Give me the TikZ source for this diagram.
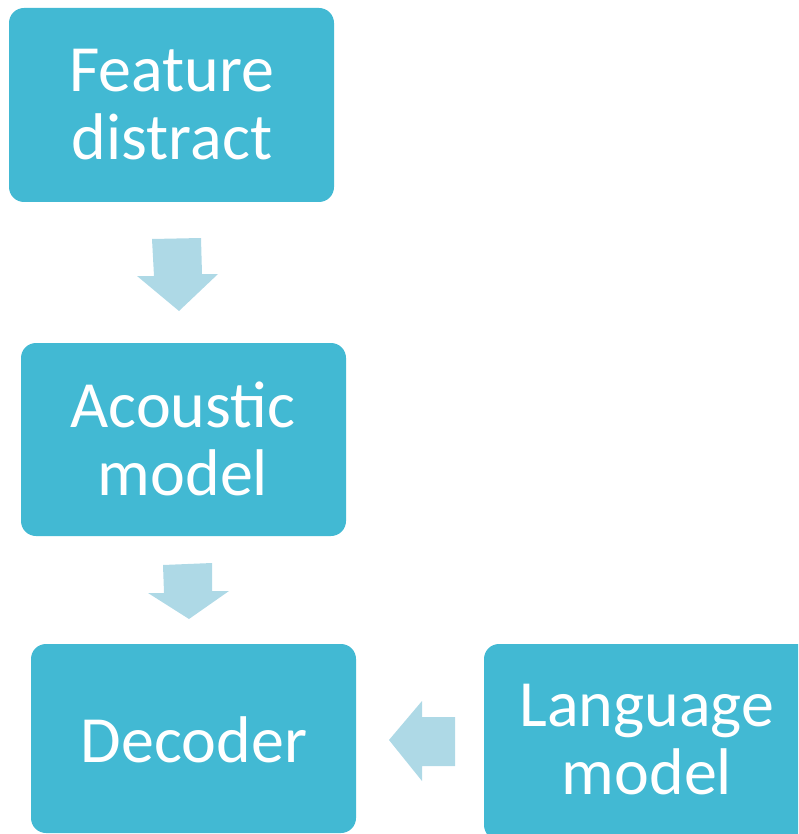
\documentclass[tikz,border=0pt]{standalone}
\usepackage{fontspec}
\setmainfont{Carlito}
\definecolor{boxblue}{RGB}{66,185,211}
\definecolor{arrowblue}{RGB}{174,217,230}
\tikzset{
  stage/.style={fill=boxblue, rounded corners=15pt},
  stagetext/.style={text=white, align=center, font=\fontsize{66}{68}\selectfont, inner sep=0pt},
  blockarrow/.style={fill=arrowblue}
}
\begin{document}
\begin{tikzpicture}[x=1pt,y=-1pt]
\useasboundingbox (0,0) rectangle (798,834);
\clip (0,0) rectangle (798,834);
% boxes
\path[stage] (9,8) rectangle (334,202);
\path[stage] (21,343) rectangle (346,536);
\path[stage] (31,644) rectangle (356,833);
\path[stage] (484,644) rectangle (812,840);
\node[stagetext] (fd) at (172,105) {Feature\\distract};
\node[stagetext] (am) at (183,439) {Acoustic\\model};
\node[stagetext] (dec) at (194,740) {Decoder};
\node[stagetext] (lm) at (647,740) {Language\\model};
% block arrows
\path[blockarrow] (152,239) -- (201,238) -- (202,274) -- (218,274) -- (179,311) -- (137,276) -- (154,276) -- cycle;
\path[blockarrow] (163,565) -- (212,563) -- (212,591) -- (229,591) -- (189,619) -- (148,593) -- (164,593) -- cycle;
\path[blockarrow] (389,740) -- (422,701) -- (422,717) -- (455,717) -- (455,766) -- (422,766) -- (422,781) -- cycle;
\end{tikzpicture}
\end{document}
